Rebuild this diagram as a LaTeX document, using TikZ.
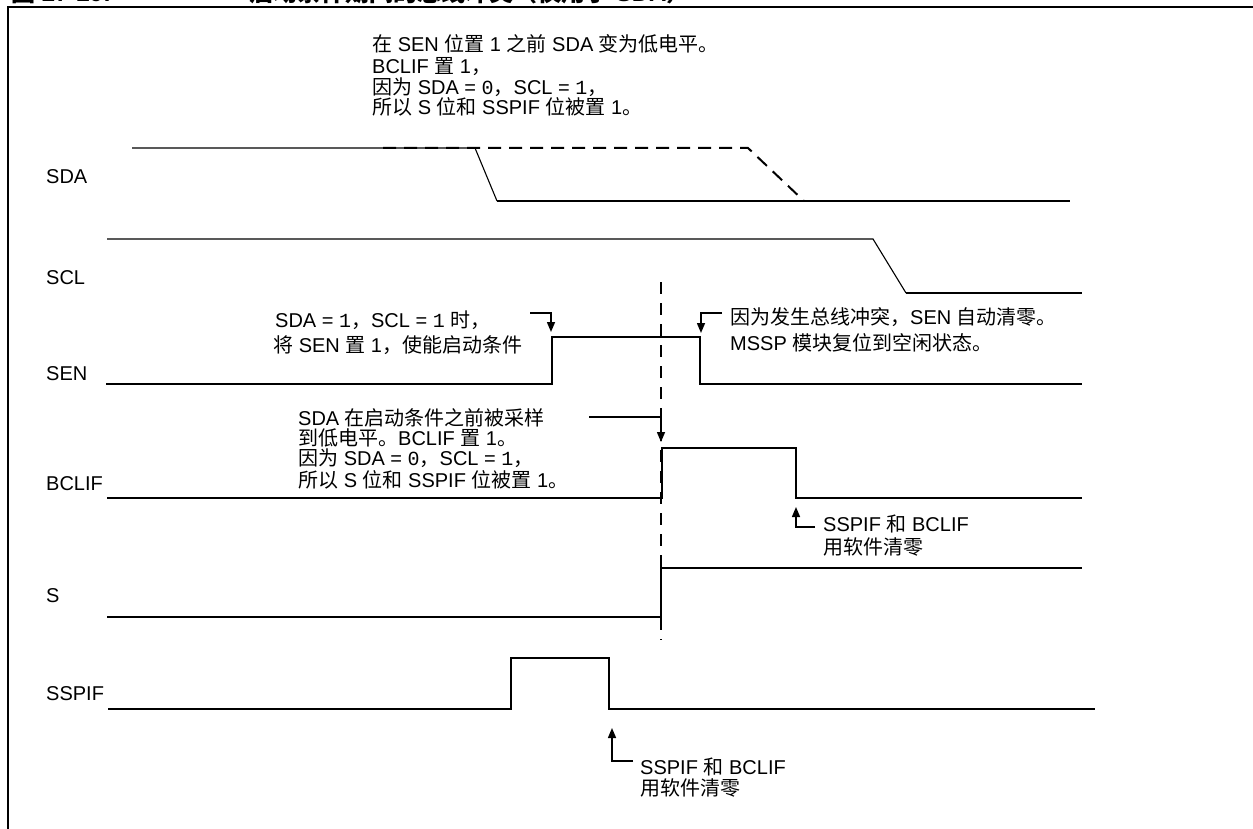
\documentclass[tikz,border=0pt]{standalone}
\usepackage{fontspec}
\setmainfont{Liberation Sans}
\newfontfamily\zhfont{Noto Sans CJK SC}
\newfontfamily\mnfont{Liberation Mono}
\newcommand\zh[1]{{\zhfont #1}}
\newcommand\mn[1]{{\mnfont #1}}
\usetikzlibrary{arrows.meta}
\tikzset{
  sig/.style={line width=2pt, line join=miter},
  thinsig/.style={line width=1.1pt},
  dsh/.style={line width=2pt, dash pattern=on 13pt off 8pt},
  vdsh/.style={line width=2pt, dash pattern=on 12pt off 9pt},
  lbl/.style={anchor=base west, inner sep=0pt, font=\fontsize{20}{22}\selectfont},
  ttl/.style={anchor=base west, inner sep=0pt, font=\fontsize{24}{26}\selectfont\bfseries},
  ann/.style={line width=1.5pt, -{Triangle[length=10pt,width=8pt]}},
  frame/.style={line width=2.7pt},
}
\begin{document}
\begin{tikzpicture}[x=1pt,y=-1pt]
\useasboundingbox (0,0) rectangle (1253,829);
\clip (0,0) rectangle (1253,829);
% title (cut off at the top)
\node[ttl] (t1) at (11,1.5) {\zh{图} 27-29:};
\node[ttl] (t2) at (249,1.5) {\zh{启动条件期间的总线冲突（仅用于} SDA\zh{）}};
% frame
\draw[frame] (8,840) -- (8,7) -- (1260,7);
% signal labels
\node[lbl] (lSDA) at (46,184) {SDA};
\node[lbl] (lSCL) at (46,284) {SCL};
\node[lbl] (lSEN) at (46,380) {SEN};
\node[lbl] (lBCLIF) at (46,490) {BCLIF};
\node[lbl] (lS) at (46,602) {S};
\node[lbl] (lSSPIF) at (46,700) {SSPIF};
% SDA
\draw[thinsig] (132,148) -- (475,148) -- (497,201);
\draw[sig] (497,201) -- (1070,201);
\draw[dsh] (383,148) -- (748,148) -- (804,201);
% SCL
\draw[thinsig] (107,239) -- (873,239) -- (906,293);
\draw[sig] (906,293) -- (1082,293);
% SEN
\draw[sig] (106,384) -- (552,384) -- (552,337) -- (700,337) -- (700,384) -- (1082,384);
% BCLIF
\draw[sig] (107,498) -- (662,498) -- (662,448) -- (796,448) -- (796,498) -- (1082,498);
% S
\draw[sig] (107,617) -- (661,617) -- (661,568) -- (1082,568);
% SSPIF
\draw[sig] (108,709) -- (511,709) -- (511,658) -- (609,658) -- (609,709) -- (1095,709);
% dashed marker line
\coordinate (vtop) at (661,282);
\coordinate (vbot) at (661,640);
\draw[vdsh] (vtop) -- (vbot);
% top annotation
\node[lbl] (a1) at (372,52) {\zh{在} SEN \zh{位置} 1 \zh{之前} SDA \zh{变为低电平。}};
\node[lbl] (a2) at (372,74) {BCLIF \zh{置} 1\zh{，}};
\node[lbl] (a3) at (372,95) {\zh{因为} SDA = \mn{0}\zh{，}SCL = \mn{1}\zh{，}};
\node[lbl] (a4) at (372,115) {\zh{所以} S \zh{位和} SSPIF \zh{位被置} 1\zh{。}};
% SEN set annotation
\node[lbl] (b1) at (275,327) {SDA = \mn{1}\zh{，}SCL = \mn{1} \zh{时，}};
\node[lbl] (b2) at (273,352) {\zh{将} SEN \zh{置} 1\zh{，使能启动条件}};
\coordinate (bA) at (530,313);
\coordinate (bT) at (551,332);
\draw[ann] (bA) -| (bT);
% SEN clear annotation
\node[lbl] (c1) at (730,324) {\zh{因为发生总线冲突，}SEN \zh{自动清零。}};
\node[lbl] (c2) at (730,350) {MSSP \zh{模块复位到空闲状态。}};
\coordinate (cA) at (722,313);
\coordinate (cT) at (701,333);
\draw[ann] (cA) -| (cT);
% BCLIF set annotation
\node[lbl] (d1) at (298,425) {SDA \zh{在启动条件之前被采样}};
\node[lbl] (d2) at (298,445) {\zh{到低电平。}BCLIF \zh{置} 1\zh{。}};
\node[lbl] (d3) at (298,465) {\zh{因为} SDA = \mn{0}\zh{，}SCL = \mn{1}\zh{，}};
\node[lbl] (d4) at (298,487) {\zh{所以} S \zh{位和} SSPIF \zh{位被置} 1\zh{。}};
\coordinate (dA) at (589,417);
\coordinate (dT) at (661,442);
\draw[ann] (dA) -| (dT);
% BCLIF clear annotation
\node[lbl] (e1) at (823,531) {SSPIF \zh{和} BCLIF};
\node[lbl] (e2) at (823,554) {\zh{用软件清零}};
\coordinate (eA) at (815,527);
\coordinate (eT) at (796,507);
\draw[ann] (eA) -| (eT);
% SSPIF clear annotation
\node[lbl] (f1) at (640,774) {SSPIF \zh{和} BCLIF};
\node[lbl] (f2) at (640,795) {\zh{用软件清零}};
\coordinate (fA) at (633,761);
\coordinate (fT) at (612,728);
\draw[ann] (fA) -| (fT);
\end{tikzpicture}
\end{document}
